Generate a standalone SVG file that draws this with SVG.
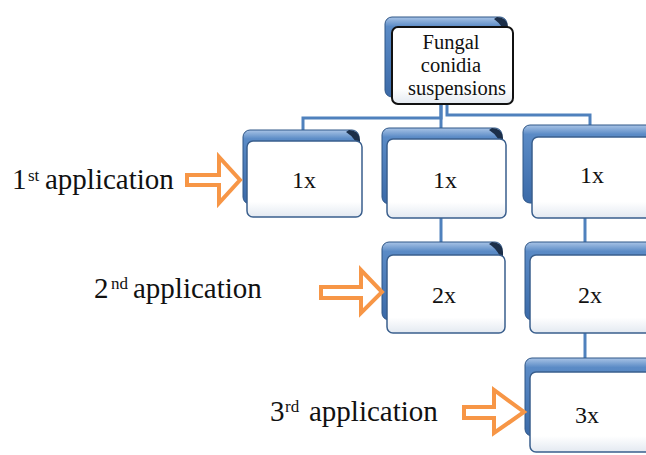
<svg xmlns="http://www.w3.org/2000/svg" width="646" height="455" viewBox="0 0 646 455">
<defs>
<linearGradient id="back" x1="0" y1="0" x2="0" y2="1">
<stop offset="0" stop-color="#a9c4e6"/>
<stop offset="0.12" stop-color="#5b8bc6"/>
<stop offset="1" stop-color="#3b6aa8"/>
</linearGradient>
<linearGradient id="front" x1="0" y1="0" x2="0" y2="1">
<stop offset="0" stop-color="#ffffff"/>
<stop offset="0.8" stop-color="#ffffff"/>
<stop offset="1" stop-color="#e3e9f1"/>
</linearGradient>
<style>
.back{fill:url(#back);stroke:#2f5687;stroke-width:1}
.shade{fill:#1c2f49}
.front{fill:url(#front);stroke:#3a5f8d;stroke-width:1.5}
.frontk{fill:url(#front);stroke:#111;stroke-width:2}
text{font-family:'Liberation Serif','DejaVu Serif',serif;fill:#111}
.box{font-size:24px;text-anchor:middle}
.top{font-size:20.5px;text-anchor:middle}
.app{font-size:29px}
.sup{font-size:17px}
.conn{fill:none;stroke:#4f81bd;stroke-width:3}
.arr{fill:#fff;stroke:#f79646;stroke-width:4;stroke-linejoin:miter}
</style>
</defs>
<g id="connectors">
<path class="conn" d="M441,104 V118 H303 V131"/>
<path class="conn" d="M441,104 V129"/>
<path class="conn" d="M447,104 V115 H590 V126"/>
<path class="conn" d="M441,218 V243"/>
<path class="conn" d="M585,218 V243"/>
<path class="conn" d="M585,333 V359"/>
</g>
<g id="node-top">
<rect class="back" x="385" y="17" width="122" height="80" rx="7"/>
<path class="shade" d="M497,17 Q507,17 508,27 L508,40 Q504,26 494,19 Z"/>
<rect class="frontk" x="392" y="27" width="121" height="77" rx="6"/>
<text class="top" x="451" y="49">Fungal</text>
<text class="top" x="451" y="72">conidia</text>
<text class="top" x="457" y="95">suspensions</text>
</g>
<g id="node-r1c1">
<rect class="back" x="243" y="130" width="116" height="74" rx="7"/>
<path class="shade" d="M349,130 Q359,130 360,140 L360,152 Q356,138 346,132 Z"/>
<rect class="front" x="247" y="141" width="115" height="76" rx="6"/>
<text class="box" x="304" y="188">1x</text>
</g>
<g id="node-r1c2">
<rect class="back" x="382" y="128" width="120" height="76" rx="7"/>
<path class="shade" d="M492,128 Q502,128 503,138 L503,150 Q499,136 489,130 Z"/>
<rect class="front" x="387" y="139" width="119" height="79" rx="6"/>
<text class="box" x="445" y="188">1x</text>
</g>
<g id="node-r1c3">
<rect class="back" x="523" y="125" width="130" height="78" rx="7"/>
<rect class="front" x="532" y="137" width="122" height="81" rx="6"/>
<text class="box" x="592" y="183">1x</text>
</g>
<g id="node-r2c2">
<rect class="back" x="382" y="242" width="120" height="78" rx="7"/>
<path class="shade" d="M492,242 Q502,242 503,252 L503,264 Q499,250 489,244 Z"/>
<rect class="front" x="387" y="255" width="118" height="78" rx="6"/>
<text class="box" x="444" y="303">2x</text>
</g>
<g id="node-r2c3">
<rect class="back" x="525" y="242" width="130" height="78" rx="7"/>
<rect class="front" x="530" y="255" width="124" height="78" rx="6"/>
<text class="box" x="590" y="303">2x</text>
</g>
<g id="node-r3c3">
<rect class="back" x="525" y="358" width="130" height="78" rx="7"/>
<rect class="front" x="530" y="372" width="124" height="80" rx="6"/>
<text class="box" x="587" y="423">3x</text>
</g>
<g id="label-1">
<text class="app" x="12" y="189">1<tspan class="sup" x="28" dy="-8">st</tspan><tspan x="45" dy="8">application</tspan></text>
<path class="arr" d="M187,175 H219 V157 L240,180 L219,203 V185 H187 Z"/>
</g>
<g id="label-2">
<text class="app" x="94" y="298">2<tspan class="sup" x="111" dy="-9">nd</tspan><tspan x="133" dy="9">application</tspan></text>
<path class="arr" d="M321,287 H361 V270 L382,292 L361,313 V298 H321 Z"/>
</g>
<g id="label-3">
<text class="app" x="270" y="421">3<tspan class="sup" x="285" dy="-9">rd</tspan><tspan x="309" dy="9">application</tspan></text>
<path class="arr" d="M464,407 H494 V390 L524,412 L494,433 V418 H464 Z"/>
</g>
</svg>
